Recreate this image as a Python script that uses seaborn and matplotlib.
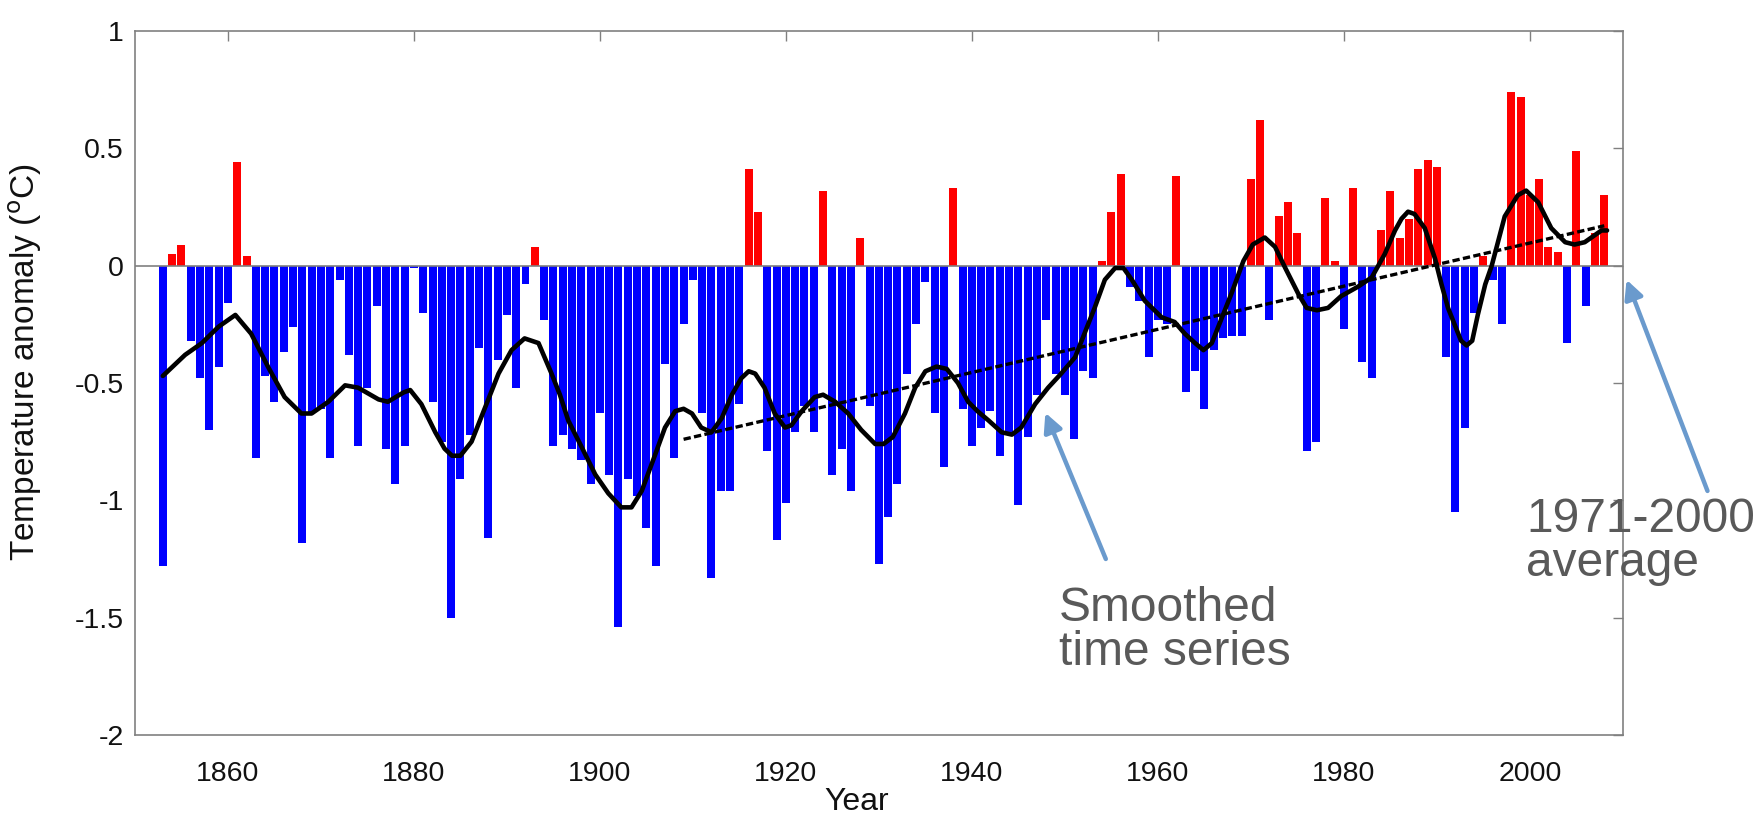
import numpy as np
import pandas as pd
import matplotlib
matplotlib.use("Agg")
import matplotlib.pyplot as plt
import seaborn as sns

# ---------------- data ----------------
years = list(range(1853, 2009))
anomaly = [
    -1.28, 0.05, 0.09, -0.32, -0.48, -0.70, -0.43, -0.16, 0.44, 0.04,    # 1853-1862
    -0.82, -0.47, -0.58, -0.37, -0.26, -1.18, -0.63, -0.61, -0.82, -0.06,  # 1863-1872
    -0.38, -0.77, -0.52, -0.17, -0.78, -0.93, -0.77, -0.01, -0.20, -0.58,  # 1873-1882
    -0.75, -1.50, -0.91, -0.72, -0.35, -1.16, -0.40, -0.21, -0.52, -0.08,  # 1883-1892
    0.08, -0.23, -0.77, -0.72, -0.78, -0.83, -0.93, -0.63, -0.89, -1.54,   # 1893-1902
    -0.91, -0.98, -1.12, -1.28, -0.42, -0.82, -0.25, -0.06, -0.63, -1.33,  # 1903-1912
    -0.96, -0.96, -0.59, 0.41, 0.23, -0.79, -1.17, -1.01, -0.71, -0.60,    # 1913-1922
    -0.71, 0.32, -0.89, -0.78, -0.96, 0.12, -0.60, -1.27, -1.07, -0.93,    # 1923-1932
    -0.46, -0.25, -0.07, -0.63, -0.86, 0.33, -0.61, -0.77, -0.69, -0.62,   # 1933-1942
    -0.81, -0.72, -1.02, -0.73, -0.55, -0.23, -0.46, -0.55, -0.74, -0.45,  # 1943-1952
    -0.48, 0.02, 0.23, 0.39, -0.09, -0.15, -0.39, -0.23, -0.25, 0.38,      # 1953-1962
    -0.54, -0.45, -0.61, -0.36, -0.31, -0.30, -0.30, 0.37, 0.62, -0.23,    # 1963-1972
    0.21, 0.27, 0.14, -0.79, -0.75, 0.29, 0.02, -0.27, 0.33, -0.41,        # 1973-1982
    -0.48, 0.15, 0.32, 0.12, 0.20, 0.41, 0.45, 0.42, -0.39, -1.05,         # 1983-1992
    -0.69, -0.20, 0.04, -0.06, -0.25, 0.74, 0.72, 0.30, 0.37, 0.08,        # 1993-2002
    0.06, -0.33, 0.49, -0.17, 0.14, 0.30,                                  # 2003-2008
]

smooth_years = [
    1853.0, 1855.4, 1857.2, 1859.0, 1860.8, 1862.5, 1864.3, 1866.1, 1867.9, 1869.0,
    1870.8, 1872.6, 1874.0, 1876.2, 1877.2, 1878.9, 1879.6, 1880.8, 1882.3, 1883.3,
    1884.1, 1885.0, 1886.2, 1887.6, 1889.1, 1890.5, 1891.9, 1893.4, 1894.8, 1895.7,
    1896.6, 1898.0, 1899.5, 1900.9, 1902.3, 1903.4, 1904.5, 1905.9, 1907.0, 1908.1,
    1909.0, 1909.9, 1910.9, 1912.0, 1913.1, 1914.2, 1915.2, 1916.0, 1916.7, 1917.7,
    1918.8, 1919.9, 1920.6, 1921.7, 1923.1, 1924.0, 1925.3, 1926.7, 1928.1, 1929.6,
    1930.5, 1931.5, 1932.8, 1933.9, 1935.0, 1936.2, 1937.3, 1938.5, 1939.6, 1940.6,
    1941.8, 1943.2, 1944.3, 1945.3, 1946.8, 1948.2, 1949.6, 1951.1, 1952.1, 1953.2,
    1954.3, 1955.4, 1956.3, 1957.2, 1958.6, 1960.4, 1961.8, 1962.9, 1964.0, 1964.9,
    1965.8, 1966.8, 1967.9, 1969.2, 1970.2, 1971.5, 1972.6, 1973.7, 1975.1, 1976.0,
    1977.1, 1978.3, 1979.7, 1981.5, 1983.0, 1984.4, 1985.5, 1986.2, 1986.9, 1987.6,
    1988.7, 1989.8, 1990.5, 1991.2, 1992.6, 1993.2, 1993.8, 1994.4, 1995.2, 1995.9,
    1997.3, 1998.7, 1999.6, 2000.9, 2002.3, 2003.8, 2004.8, 2005.9, 2007.7, 2008.3,
]
smooth_vals = [
    -0.47, -0.38, -0.33, -0.26, -0.21, -0.29, -0.43, -0.56, -0.63, -0.63,
    -0.58, -0.51, -0.52, -0.57, -0.58, -0.54, -0.53, -0.59, -0.71, -0.78,
    -0.81, -0.81, -0.75, -0.61, -0.46, -0.36, -0.31, -0.33, -0.46, -0.55,
    -0.66, -0.77, -0.89, -0.97, -1.03, -1.03, -0.96, -0.81, -0.69, -0.62,
    -0.61, -0.63, -0.69, -0.71, -0.65, -0.55, -0.48, -0.45, -0.46, -0.52,
    -0.63, -0.69, -0.68, -0.62, -0.56, -0.55, -0.58, -0.63, -0.70, -0.76,
    -0.76, -0.73, -0.63, -0.52, -0.45, -0.43, -0.44, -0.50, -0.58, -0.62,
    -0.66, -0.71, -0.72, -0.69, -0.59, -0.52, -0.46, -0.39, -0.29, -0.18,
    -0.06, -0.01, -0.01, -0.06, -0.15, -0.22, -0.24, -0.29, -0.33, -0.36,
    -0.33, -0.23, -0.12, 0.02, 0.09, 0.12, 0.08, -0.01, -0.12, -0.18,
    -0.19, -0.18, -0.13, -0.09, -0.05, 0.05, 0.15, 0.20, 0.23, 0.22,
    0.16, 0.03, -0.08, -0.18, -0.32, -0.34, -0.32, -0.21, -0.08, 0.00,
    0.21, 0.30, 0.32, 0.27, 0.16, 0.10, 0.09, 0.10, 0.15, 0.15,
]

trend_years = [1909, 2008]
trend_vals = [-0.74, 0.17]

x_ticks = [1860, 1880, 1900, 1920, 1940, 1960, 1980, 2000]
y_ticks = [-2, -1.5, -1, -0.5, 0, 0.5, 1]
y_tick_labels = ["-2", "-1.5", "-1", "-0.5", "0", "0.5", "1"]

# ---------------- style ----------------
sns.set_style("white")
narrow = ["Liberation Sans Narrow", "Liberation Sans", "DejaVu Sans"]
regular = ["Liberation Sans", "DejaVu Sans"]
plt.rcParams["font.family"] = narrow

fig = plt.figure(figsize=(17.59, 8.16), dpi=100)
ax = fig.add_axes([0.0767, 0.0993, 0.8459, 0.8627])

df = pd.DataFrame({"year": years, "anomaly": anomaly})
df["sign"] = np.where(df["anomaly"] >= 0, "warm", "cold")

sns.barplot(
    data=df, x="year", y="anomaly", hue="sign",
    palette={"warm": "#ff0000", "cold": "#0000ff"},
    native_scale=True, dodge=False, width=0.86, saturation=1,
    errorbar=None, legend=False, linewidth=0, ax=ax,
)

ax.axhline(0, color="#808080", lw=1.2, zorder=1.5)

sns.lineplot(x=trend_years, y=trend_vals, color="black", linewidth=2.4,
             linestyle=(0, (2.2, 1.0)), ax=ax, zorder=3)
sns.lineplot(x=smooth_years, y=smooth_vals, color="black", linewidth=3.3,
             ax=ax, zorder=4)

ax.set_xlim(1850, 2010)
ax.set_ylim(-2, 1)
ax.set_xticks(x_ticks)
ax.set_xticklabels([str(t) for t in x_ticks])
ax.set_yticks(y_ticks)
ax.set_yticklabels(y_tick_labels)

ax.tick_params(axis="both", direction="in", length=7, width=1.0,
               color="#808080", top=True, right=True, labelsize=20.5,
               labelcolor="#111111")
ax.tick_params(axis="x", pad=19)
ax.tick_params(axis="y", pad=8)
for s in ax.spines.values():
    s.set_visible(True)
    s.set_color("#808080")
    s.set_linewidth(1.2)

ax.set_xlabel("Year", fontsize=23, color="#111111", family=narrow)
ax.xaxis.set_label_coords(0.485, -0.074)
ax.set_ylabel(r"Temperature anomaly ($^{\rm o}$C)", fontsize=24,
              color="#111111", family=regular)
ax.yaxis.set_label_coords(-0.061, 0.53)

arrow_col = "#6a9acd"
txt_col = "#595959"

ax.annotate("", xy=(1947.9, -0.627), xytext=(1954.4, -1.25),
            arrowprops=dict(arrowstyle="-|>", color=arrow_col, lw=3.2,
                            mutation_scale=28, shrinkA=0, shrinkB=0),
            annotation_clip=False, zorder=6)
ax.text(1949.4, -1.365, "Smoothed\ntime series", fontsize=34.5,
        color=txt_col, family=regular, ha="left", va="top",
        linespacing=0.98, clip_on=False, zorder=6)

ax.annotate("", xy=(2010.4, -0.06), xytext=(2019.1, -0.96),
            arrowprops=dict(arrowstyle="-|>", color=arrow_col, lw=3.2,
                            mutation_scale=28, shrinkA=0, shrinkB=0),
            annotation_clip=False, zorder=6)
ax.text(1999.6, -0.985, "1971-2000\naverage", fontsize=34.5,
        color=txt_col, family=regular, ha="left", va="top",
        linespacing=0.98, clip_on=False, zorder=6)

fig.savefig("out.png", dpi=100, facecolor="white")
